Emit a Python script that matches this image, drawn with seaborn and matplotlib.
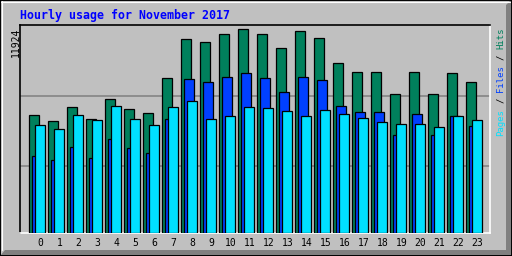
import matplotlib
matplotlib.use("Agg")
import matplotlib.pyplot as plt
from matplotlib.patches import Polygon, Rectangle
import seaborn as sns
import numpy as np

hours = list(range(24))
hour_labels = [str(h) for h in hours]
hits = [6890, 6539, 7358, 6673, 7827, 7241, 7007, 9056, 11339, 11163, 11632, 11924,
        11632, 10812, 11807, 11398, 9934, 9407, 9407, 8119, 9407, 8119, 9349, 8822]
files = [4508, 4273, 5034, 4390, 5503, 4976, 4666, 6673, 8998, 8822, 9115, 9349,
         9056, 8237, 9115, 8939, 7417, 7066, 7066, 5719, 6949, 5719, 6832, 6246]
pages = [6305, 6088, 6890, 6597, 7417, 6673, 6305, 7358, 7727, 6656, 6832, 7358,
         7300, 7124, 6832, 7183, 6949, 6714, 6480, 6363, 6363, 6188, 6832, 6597]
max_label = "11924"
title = "Hourly usage for November 2017"

C_HIT, C_FILE, C_PAGE = "#00805c", "#0040ff", "#00e0ff"
GREY, DARK = "#c0c0c0", "#808080"
W, H = 512, 256

sns.set_style("white")
plt.rcParams["font.family"] = ["DejaVu Sans Mono"]

fig = plt.figure(figsize=(W / 100, H / 100), dpi=100, facecolor=GREY)

def fx(x):
    return x / W

def fy(y):
    return 1 - y / H

# outer bevel
fig.patches.append(Polygon([(fx(5), fy(250)), (fx(506), fy(250)), (fx(506), fy(5)),
                            (fx(511), fy(0)), (fx(511), fy(256)), (fx(0), fy(256))],
                           closed=True, transform=fig.transFigure, facecolor=DARK,
                           edgecolor="none", zorder=0))
fig.patches.append(Rectangle((0, 0), 1, 1, transform=fig.transFigure, fill=False,
                             edgecolor="black", linewidth=1.4, zorder=1))
fig.lines.append(plt.Line2D([fx(1), fx(510)], [fy(1.5), fy(1.5)], transform=fig.transFigure,
                            color="white", lw=0.8))
fig.lines.append(plt.Line2D([fx(1.5), fx(1.5)], [fy(1), fy(250)], transform=fig.transFigure,
                            color="white", lw=0.8))

ax = fig.add_axes([fx(20), fy(233), 470 / W, 208 / H])
ax.set_facecolor(GREY)

x = np.array(hours, dtype=float)
wbar = 10 / 19
for vals, off, col in [(hits, -6 / 19, C_HIT), (files, -3 / 19, C_FILE), (pages, 0.0, C_PAGE)]:
    sns.barplot(x=x + off, y=vals, native_scale=True, width=wbar, color=col,
                saturation=1, edgecolor="black", linewidth=0.9, ax=ax, zorder=3)

for frac in (0.3245, 0.661):
    ax.axhline(frac * 12176, color=DARK, lw=1.1, zorder=1)

ax.set_xlim((20 - 40.3) / 19, (490 - 40.3) / 19)
ax.set_ylim(0, 12176)
ax.set_yticks([])
ax.set_xticks(hours)
ax.set_xticklabels(hour_labels, fontsize=7, color="black")
ax.tick_params(axis="x", length=0, pad=3.5)
ax.set_xlabel("")
ax.set_ylabel("")
for s in ("top", "left"):
    ax.spines[s].set_color("black")
    ax.spines[s].set_linewidth(1.2)
for s in ("bottom", "right"):
    ax.spines[s].set_color("white")
    ax.spines[s].set_linewidth(1.2)

fig.text(fx(20), fy(15.5), title, color="#0000ff", fontsize=8.4, fontweight="bold",
         va="center", ha="left")
fig.text(fx(16), fy(42.5), max_label, rotation=90, fontsize=7, ha="center", va="center",
         color="black")

fs = 6.5
cw = 0.602 * fs * 100 / 72
y0 = 136
segs = [("Pages", 0, C_PAGE), ("/", 6, "black"), ("Files", 8, C_FILE),
        ("/", 14, "black"), ("Hits", 16, C_HIT)]
for txt, start, col in segs:
    yc = y0 - cw * (start + len(txt) / 2)
    fig.text(fx(501), fy(yc), txt, rotation=90, fontsize=fs, ha="center", va="center",
             color=col)

fig.savefig("out.png", dpi=100, facecolor=GREY)
